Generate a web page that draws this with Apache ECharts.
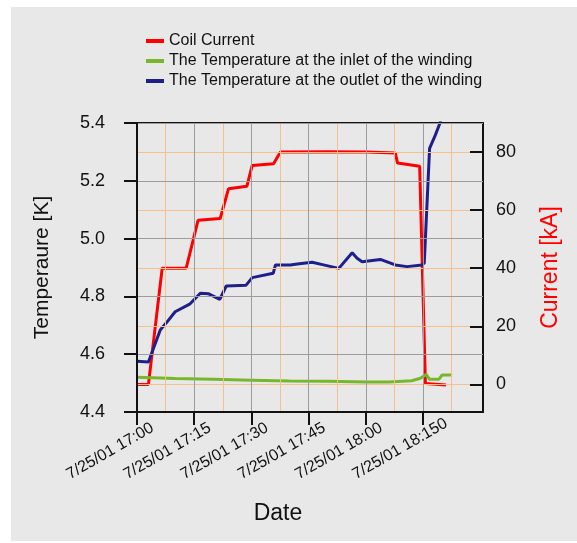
<!DOCTYPE html>
<html><head><meta charset="utf-8">
<script src="https://cdn.jsdelivr.net/npm/echarts@6/dist/echarts.min.js"></script>
<style>html,body{margin:0;padding:0;background:#fff}#c{width:577px;height:543px}</style>
</head><body><div id="c"></div><script>
// x values are minutes after 7/25/01 17:00
const xTickValues = [0, 15, 30, 45, 60, 75];
const xTickLabels = ['7/25/01 17:00', '7/25/01 17:15', '7/25/01 17:30', '7/25/01 17:45', '7/25/01 18:00', '7/25/01 18:150'];
const xMinorGrid = [7.5, 22.5, 37.5, 52.5, 67.5, 82.5];
const tempTicks = [4.4, 4.6, 4.8, 5.0, 5.2, 5.4];
const currentTicks = [0, 20, 40, 60, 80];

const seriesNames = ['Coil Current', 'The Temperature at the inlet of the winding', 'The Temperature at the outlet of the winding'];

const currentTime   = [0, 3.0, 6.6, 12.9, 16.0, 21.8, 24.0, 28.8, 30.2, 35.8, 37.6, 50, 60, 67.7, 68.3, 74.1, 75.6, 81.0];
const currentValues = [0, 0, 40, 40, 56.5, 57.1, 67.4, 68.2, 75.4, 76.0, 80.0, 80.1, 80.0, 79.7, 76.2, 75.1, 0.3, -0.2];

const inletTime   = [0, 10, 20, 30, 40, 50, 60, 66, 72, 74.3, 75.8, 76.7, 79.1, 80.0, 82.6];
const inletValues = [4.520, 4.516, 4.513, 4.510, 4.507, 4.506, 4.504, 4.504, 4.508, 4.517, 4.530, 4.513, 4.513, 4.528, 4.528];

const outletTime   = [0, 3.0, 6.1, 7.9, 10, 13.8, 16.6, 18.8, 21.7, 23.4, 28.6, 30.2, 35.7, 36.3, 40.2, 42, 45.9, 48.9, 52.9, 56.4, 57.7, 59, 63.8, 67.7, 70.8, 74.7, 75.3, 76.7, 78.2, 79.4, 80.2];
const outletValues = [4.576, 4.573, 4.684, 4.712, 4.747, 4.773, 4.811, 4.809, 4.790, 4.836, 4.839, 4.865, 4.880, 4.909, 4.909, 4.912, 4.918, 4.909, 4.897, 4.951, 4.932, 4.920, 4.928, 4.909, 4.903, 4.909, 4.915, 5.312, 5.358, 5.399, 5.44];

const pair = (xs, ys) => xs.map((x, i) => [x, ys[i]]);

const FONT = '"Liberation Sans", Arial, Helvetica, sans-serif';
const X_MAX = 90.7;
const GRAY = '#9c9c9c';
const ORANGE = '#f6c08a';
const BLACK = '#111';

const chart = echarts.init(document.getElementById('c'), null, {renderer: 'canvas'});
chart.setOption({
  animation: false,
  backgroundColor: '#ffffff',
  textStyle: {fontFamily: FONT},
  graphic: {elements: [{type: 'rect', z: -100, silent: true, shape: {x: 11, y: 7, width: 566, height: 534}, style: {fill: '#e8e8e8'}}]},
  legend: {
    orient: 'vertical', left: 141, top: 28, itemGap: 4,
    icon: 'rect', itemWidth: 18, itemHeight: 4,
    textStyle: {fontSize: 16, color: BLACK, fontFamily: FONT},
    data: seriesNames
  },
  grid: {left: 137, right: 94, top: 123, bottom: 131, containLabel: false, outerBoundsMode: 'none', show: false},
  xAxis: [
    {
      type: 'value', position: 'bottom', min: 0, max: X_MAX, z: 5,
      name: 'Date', nameLocation: 'middle', nameGap: 90, nameMoveOverlap: false,
      nameTextStyle: {fontSize: 23, color: BLACK, padding: [0, 64, 0, 0], fontFamily: FONT},
      axisLine: {show: true, onZero: false, lineStyle: {color: BLACK, width: 2}},
      axisTick: {show: true, inside: false, length: 13, lineStyle: {color: BLACK, width: 2}, customValues: xTickValues},
      axisLabel: {
        show: true, rotate: 30, margin: 23.7, customValues: xTickValues,
        formatter: v => '{a|' + xTickLabels[xTickValues.indexOf(v)] + '}',
        rich: {a: {width: 80, align: 'left', fontSize: 16, color: BLACK, fontFamily: FONT}}
      },
      splitLine: {show: true, lineStyle: {color: GRAY, width: 1}}
    },
    {
      type: 'value', position: 'top', min: 0, max: X_MAX, z: 4,
      axisLine: {show: true, onZero: false, lineStyle: {color: BLACK, width: 2}},
      axisTick: {show: false, customValues: xMinorGrid},
      axisLabel: {show: false, customValues: xMinorGrid},
      splitLine: {show: true, lineStyle: {color: ORANGE, width: 1}}
    }
  ],
  yAxis: [
    {
      type: 'value', position: 'left', min: 4.4, max: 5.4, interval: 0.2, z: 5,
      name: 'Temperaure [K]', nameLocation: 'middle', nameGap: 84, nameRotate: 90, nameMoveOverlap: false,
      nameTextStyle: {fontSize: 21, color: BLACK, fontFamily: FONT},
      axisLine: {show: true, onZero: false, lineStyle: {color: BLACK, width: 2}},
      axisTick: {show: true, inside: false, length: 13, lineStyle: {color: BLACK, width: 2}, customValues: tempTicks},
      axisLabel: {show: true, margin: 32, fontSize: 18, color: BLACK, fontFamily: FONT, customValues: tempTicks, formatter: v => v.toFixed(1)},
      splitLine: {show: true, lineStyle: {color: GRAY, width: 1}}
    },
    {
      type: 'value', position: 'right', min: -9.5, max: 90, z: 4,
      name: 'Current [kA]', nameLocation: 'middle', nameGap: 56, nameRotate: 90, nameMoveOverlap: false,
      nameTextStyle: {fontSize: 23, color: '#ff0000', fontFamily: FONT},
      axisLine: {show: true, onZero: false, lineStyle: {color: BLACK, width: 2}},
      axisTick: {show: true, inside: true, length: 13, lineStyle: {color: BLACK, width: 2}, customValues: currentTicks},
      axisLabel: {show: true, margin: 13, fontSize: 18, color: BLACK, fontFamily: FONT, customValues: currentTicks},
      splitLine: {show: true, lineStyle: {color: ORANGE, width: 1}}
    }
  ],
  series: [
    {name: seriesNames[0], type: 'line', xAxisIndex: 0, yAxisIndex: 1, data: pair(currentTime, currentValues),
     showSymbol: false, symbol: 'none', color: '#ff0000', lineStyle: {color: '#ff0000', width: 3}, z: 3, clip: true},
    {name: seriesNames[1], type: 'line', xAxisIndex: 0, yAxisIndex: 0, data: pair(inletTime, inletValues),
     showSymbol: false, symbol: 'none', color: '#76b82a', lineStyle: {color: '#76b82a', width: 3}, z: 3, clip: true},
    {name: seriesNames[2], type: 'line', xAxisIndex: 0, yAxisIndex: 0, data: pair(outletTime, outletValues),
     showSymbol: false, symbol: 'none', color: '#1f1f8c', lineStyle: {color: '#1f1f8c', width: 3}, z: 3, clip: true}
  ]
});
</script></body></html>
